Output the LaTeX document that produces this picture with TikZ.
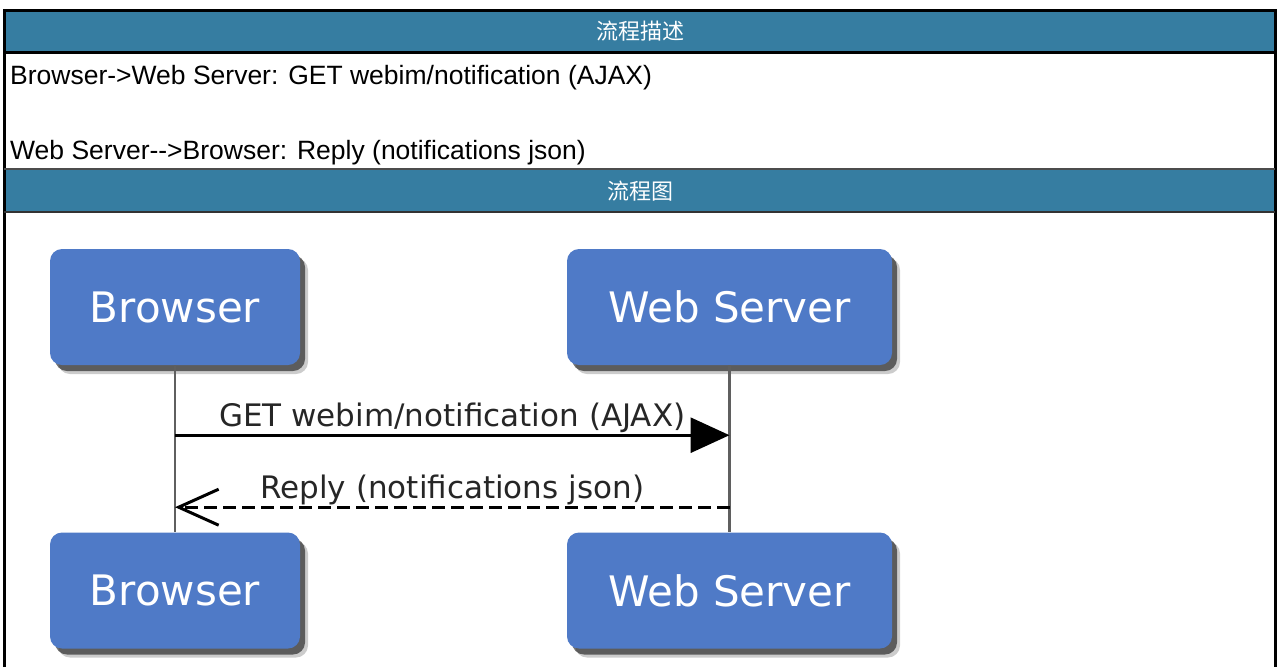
\documentclass[tikz,border=0pt]{standalone}
\usepackage{fontspec}
\setmainfont{Liberation Sans}
\newfontfamily\cjkfont{Noto Sans CJK SC}
\newfontfamily\actorfont{DejaVu Sans}
\usetikzlibrary{arrows.meta,shadows}
\definecolor{headblue}{RGB}{54,125,161}
\definecolor{actorblue}{RGB}{79,122,199}
\definecolor{lifegray}{RGB}{95,95,95}

\begin{document}
\begin{tikzpicture}[x=1pt,y=-1pt,
  header/.style={font=\cjkfont\fontsize{22}{26}\selectfont, text=white},
  rowtext/.style={anchor=base west, inner sep=0pt, font=\fontsize{26.5}{30}\selectfont},
  actor/.style={rounded corners=12pt, fill=actorblue, minimum height=116pt, text=white,
    font=\actorfont\fontsize{42}{48}\selectfont,
    drop shadow={shadow xshift=8pt, shadow yshift=-9pt, opacity=0.2, fill=black},
    drop shadow={shadow xshift=5pt, shadow yshift=-6pt, opacity=0.55, fill=black}},
  msg/.style={font=\actorfont\fontsize{31}{36}\selectfont, text=black!85, inner sep=1pt},
  lifeline/.style={lifegray, line width=2.5pt}
]
\useasboundingbox (0,0) rectangle (1277,667);

% table frame and header bands
\fill[headblue] (4,10) rectangle (1275,52);
\fill[headblue] (4,169) rectangle (1275,212);
\draw[line width=3pt] (4,667) -- (4,10) -- (1275,10) -- (1275,667);
\draw[line width=3pt] (4,52) -- (1275,52);
\draw[line width=2.5pt, black!70] (4,169) -- (1275,169);
\draw[line width=2.5pt, black!80] (4,212) -- (1275,212);

\node[header] (hdesc) at (640,31) {流程描述};
\node[header] (hchart) at (640,191) {流程图};

\node[rowtext] (desc1) at (10,84) {Browser->Web Server: GET webim/notification (AJAX)};
\node[rowtext] (desc2) at (10,159) {Web Server-\kern0pt->Browser: Reply (notifications json)};

% sequence chart
\node[actor, minimum width=250pt] (btop) at (175,307) {Browser};
\node[actor, minimum width=325pt] (stop) at (729.5,307) {Web Server};
\node[actor, minimum width=250pt] (bbot) at (175,590.5) {Browser};
\node[actor, minimum width=325pt] (sbot) at (729.5,590.5) {Web Server};

\draw[lifeline] (btop.south) -- (bbot.north);
\draw[lifeline] (stop.south) -- (sbot.north);

\path (btop.south) ++(0,70) coordinate (req1);
\path (stop.south) ++(0,70) coordinate (req2);
\path (btop.south) ++(0,142) coordinate (rep1);
\path (stop.south) ++(0,142) coordinate (rep2);

\draw[line width=3pt, -{Triangle[length=39pt,width=35pt]}] (req1) -- node[msg, above] {GET webim/notification (AJAX)} (req2);
\draw[line width=3pt, dash pattern=on 13pt off 6pt, -{Straight Barb[length=40pt,width=36pt]}] (rep2) -- node[msg, above] {Reply (notifications json)} (rep1);
\end{tikzpicture}
\end{document}
